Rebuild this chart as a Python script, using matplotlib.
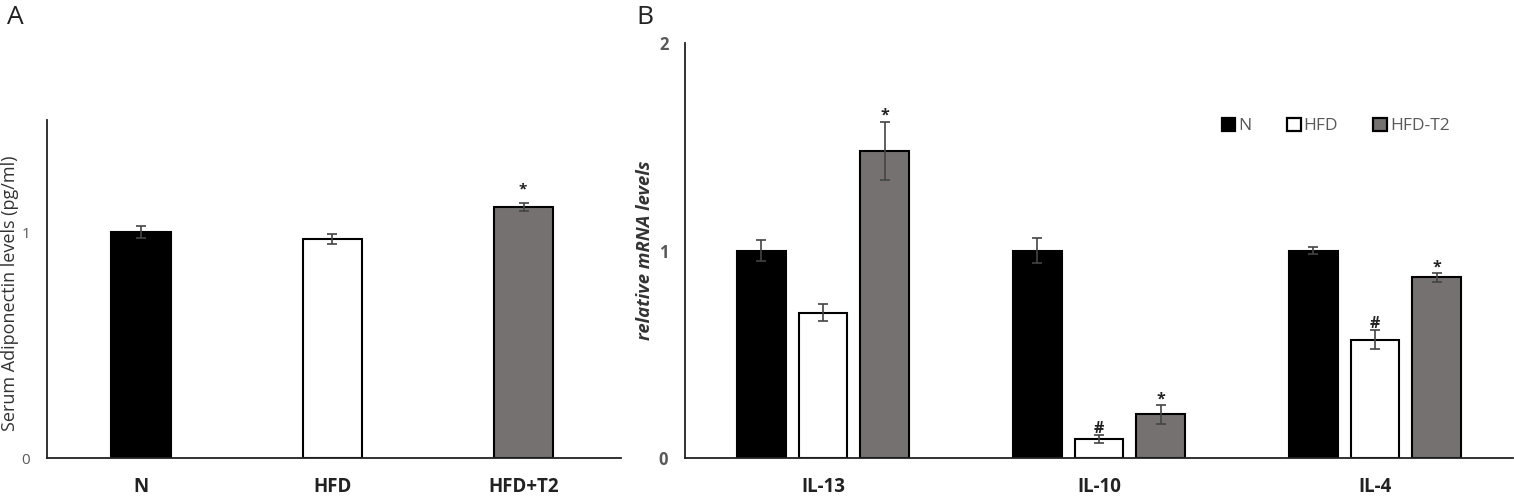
import matplotlib
matplotlib.use("Agg")
import matplotlib.pyplot as plt
from matplotlib.patches import Patch

plt.rcParams['font.family'] = ['Open Sans', 'DejaVu Sans']

W, H = 1514, 496

# panel A
groups_a = ["N", "HFD", "HFD+T2"]
values_a = [1.0, 0.97, 1.11]
errors_a = [0.025, 0.022, 0.018]
marks_a = ["", "", "*"]

# panel B
genes = ["IL-13", "IL-10", "IL-4"]
series_names = ["N", "HFD", "HFD-T2"]
n_vals = [1.0, 1.0, 1.0]
hfd_vals = [0.70, 0.09, 0.57]
t2_vals = [1.48, 0.21, 0.87]
n_err = [0.05, 0.06, 0.015]
hfd_err = [0.04, 0.02, 0.045]
t2_err = [0.14, 0.045, 0.02]
hfd_marks = ["", "#", "#"]
t2_marks = ["*", "*", "*"]

colors = ["black", "white", "#767171"]
grey = "#595959"


def axes_px(x0, x1, ytop, ybot):
    return fig.add_axes([x0 / W, 1 - ybot / H, (x1 - x0) / W, (ybot - ytop) / H])


def clean(ax):
    ax.spines["top"].set_visible(False)
    ax.spines["right"].set_visible(False)
    ax.spines["left"].set_linewidth(1.3)
    ax.spines["bottom"].set_linewidth(1.3)
    ax.spines["left"].set_color("#222222")
    ax.spines["bottom"].set_color("#222222")


fig = plt.figure(figsize=(W / 100, H / 100), dpi=100)

# A
ax = axes_px(47, 621, 120, 458)
clean(ax)
x = range(3)
ax.bar(x, values_a, width=0.31, color=colors, edgecolor="black", linewidth=1.5,
       yerr=errors_a, error_kw=dict(ecolor="#444444", elinewidth=1.2, capsize=3.5, capthick=1.2))
ax.set_xlim(-0.492, 2.508)
ax.set_ylim(0, 1.496)
ax.set_yticks([0, 1])
ax.tick_params(axis="y", length=0, labelsize=11, labelcolor=grey, pad=12)
ax.tick_params(axis="x", length=0, pad=14)
ax.set_xticks(list(x))
ax.set_xticklabels(groups_a, fontsize=13.5, fontweight="bold", color="#222222")
fig.text(10 / W, 1 - 293 / H, "Serum Adiponectin levels (pg/ml)", rotation=90, fontsize=13,
         ha="center", va="center", color="#333333")
for i in x:
    if marks_a[i]:
        ax.text(i - 0.005, values_a[i] + errors_a[i] + 0.03, marks_a[i], ha="center", va="bottom",
                fontsize=11, fontweight="bold", color="#222222")

# B
ax2 = axes_px(685, 1513, 43, 458)
clean(ax2)
w = 0.177
step = 0.224
for k, (vals, errs) in enumerate([(n_vals, n_err), (hfd_vals, hfd_err), (t2_vals, t2_err)]):
    pos = [i + (k - 1) * step for i in range(3)]
    ax2.bar(pos, vals, width=w, color=colors[k], edgecolor="black", linewidth=1.5,
            yerr=errs, error_kw=dict(ecolor="#444444", elinewidth=1.2, capsize=3.5, capthick=1.2))
for i in range(3):
    if hfd_marks[i]:
        ax2.text(i, hfd_vals[i] + hfd_err[i] - 0.01, hfd_marks[i], ha="center", va="bottom",
                 fontsize=11.5, fontweight="bold", color="#222222")
    ax2.text(i + step, t2_vals[i] + t2_err[i] - 0.01, t2_marks[i], ha="center", va="bottom",
             fontsize=11.5, fontweight="bold", color="#222222")
ax2.set_xlim(-0.5, 2.5)
ax2.set_ylim(0, 2)
ax2.set_yticks([0, 1, 2])
ax2.tick_params(axis="y", length=0, labelsize=12, labelcolor=grey, pad=12)
for t in ax2.get_yticklabels():
    t.set_fontweight("bold")
ax2.set_xticks(range(3))
ax2.set_xticklabels(genes, fontsize=13.5, fontweight="bold", color="#222222")
ax2.tick_params(axis="x", length=0, pad=14)
fig.text(645 / W, 1 - 250 / H, "relative mRNA levels", rotation=90, fontsize=13.3,
         fontweight="bold", style="italic", ha="center", va="center", color="#333333")
handles = [Patch(facecolor=c, edgecolor="black", linewidth=1.6) for c in colors]
ax2.legend(handles, series_names, ncol=3, frameon=False, loc="upper left",
           bbox_to_anchor=(0.648, 0.82), fontsize=12.5, handlelength=0.8, handleheight=0.8,
           handletextpad=0.15, columnspacing=2.05, labelcolor=grey, borderpad=0, borderaxespad=0)

fig.text(7 / W, 1 - 24 / H, "A", fontsize=19, ha="left", va="baseline", color="#222222")
fig.text(636 / W, 1 - 24 / H, "B", fontsize=19, ha="left", va="baseline", color="#222222")

fig.savefig("out.png", dpi=100)
